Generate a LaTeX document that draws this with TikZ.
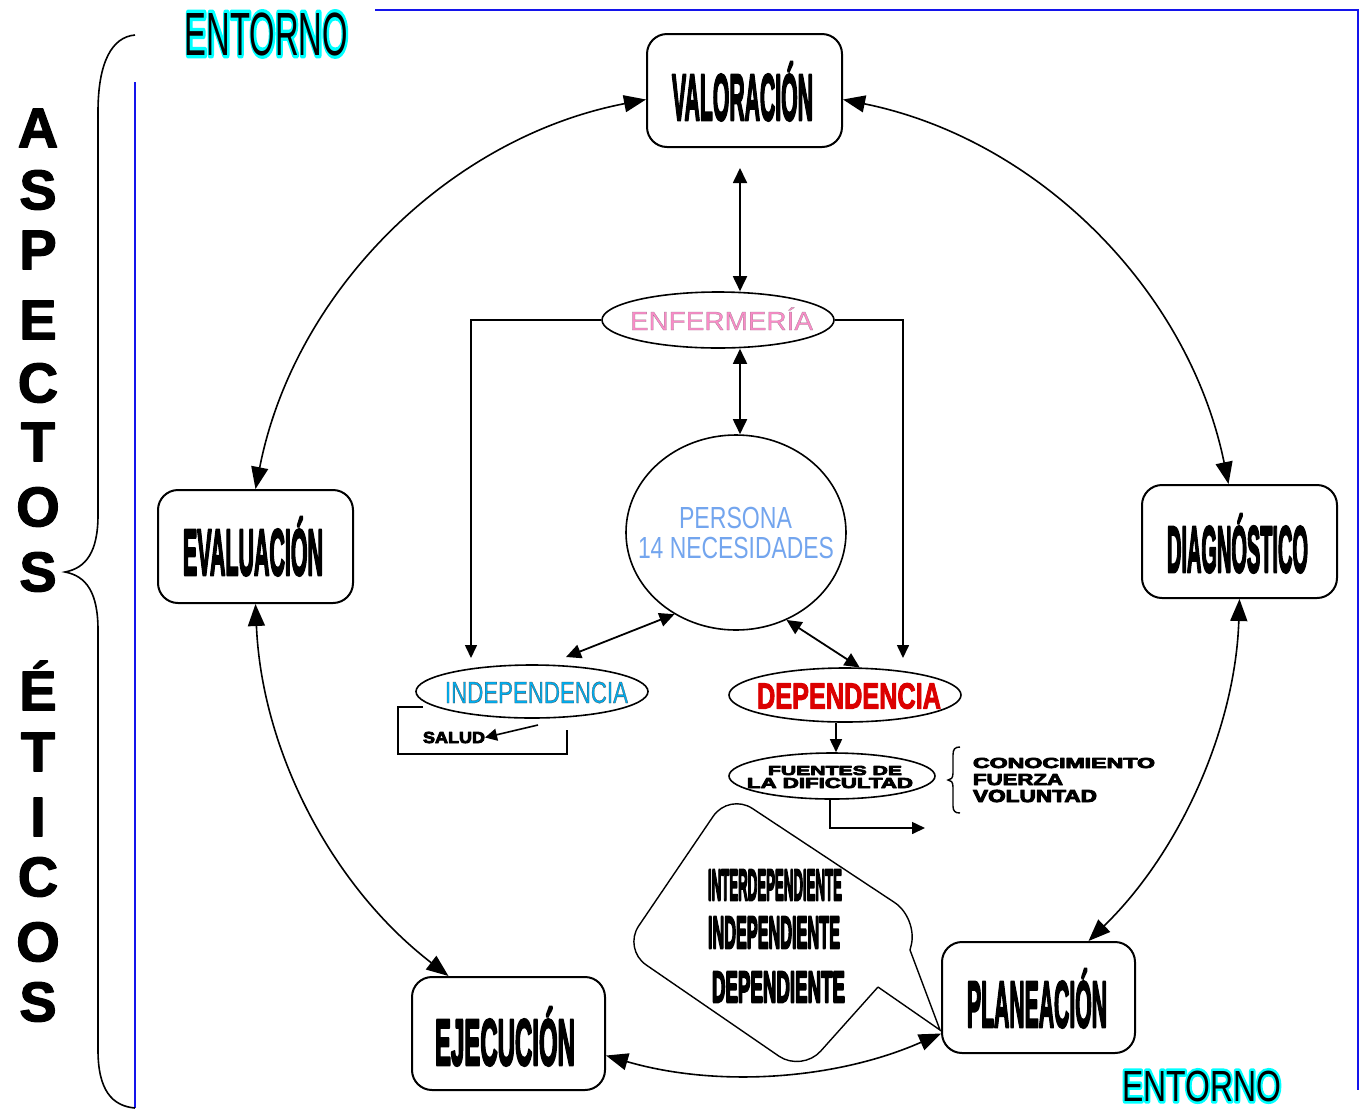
\documentclass[tikz,border=0pt]{standalone}
\usepackage{fontspec}
\setmainfont{Liberation Sans}
\usepackage{graphicx}
\usetikzlibrary{shapes.geometric,arrows.meta}
\newdimen\px \px=0.5pt
\newcommand\fit[3]{\resizebox{#1\px}{#2\px}{\smash{#3}\vphantom{X}}}
\newcommand\capbox[1]{\smash{#1}\vphantom{X}}
% text drawn with a PDF text render mode: #1 mode, #2 stroke width, #3 stroke rgb, #4 text
\newcommand\outl[4]{{\special{pdf:literal direct #1 Tr #2 w 1 j #3 RG}#4\special{pdf:literal direct 0 Tr}}}
\definecolor{enfpink}{RGB}{250,140,200}
\definecolor{perblue}{RGB}{115,165,238}
\definecolor{depred}{RGB}{220,0,0}
\definecolor{blueln}{RGB}{20,20,235}
\begin{document}
\begin{tikzpicture}[x=0.5pt,y=0.5pt,
  proc/.style={draw, line width=1pt, rounded corners=10pt, inner sep=0pt, minimum width=97.5pt, minimum height=56.5pt},
  lbl/.style={inner sep=0pt, outer sep=0pt},
  oval/.style={ellipse, draw, line width=0.8pt, inner sep=0pt},
  bigarr/.style={line width=0.8pt, {Triangle[length=11pt,width=8.5pt]}-{Triangle[length=11pt,width=8.5pt]}},
  medarr/.style={line width=0.9pt, {Triangle[length=7.5pt,width=7pt]}-{Triangle[length=7.5pt,width=7pt]}},
  onearr/.style={line width=0.8pt, -{Triangle[length=6.5pt,width=6pt]}},
  blueline/.style={draw=blueln, line width=1pt},
  thin/.style={line width=0.7pt}]
\useasboundingbox (0,0) rectangle (1366,-1110);

% blue frame lines
\draw[blueline] (375,-10) -- (1358,-10) -- (1358,-1090);
\draw[blueline] (135,-82) -- (135,-1108);

% big brace
\draw[line width=0.8pt] (135,-35) .. controls (112,-37) and (98,-62) .. (98,-112) -- (98,-515) .. controls (98,-552) and (86,-568) .. (65,-572) .. controls (86,-576) and (98,-592) .. (98,-630) -- (98,-1050) .. controls (98,-1090) and (112,-1106) .. (135,-1108);

% ASPECTOS ETICOS
\foreach \l/\yy [count=\i] in {A/128,S/190,P/250,E/320,C/383,T/442,O/507,S/572,É/691,T/752,I/817,C/877,O/942,S/1002}
  \node[lbl,font=\fontsize{28}{28}\selectfont\bfseries] (asp\i) at (38,-\yy) {\capbox{\outl{2}{0.6}{0 0 0}{\l}}};

% ENTORNO labels (cyan glow = stroked copy under the black text)
\node[lbl] (entT) at (266.5,-34) {\fit{163}{42}{\rlap{\outl{1}{1.1}{0 1 1}{ENTORNO}}ENTORNO}};
\node[lbl] (entT2) at (1201.5,-1086) {\fit{159}{30}{\rlap{\outl{1}{1.2}{0 1 1}{ENTORNO}}ENTORNO}};

% boxes
\node[proc] (val) at (744.5,-90.5) {};
\node[proc] (diag) at (1239.5,-541.5) {};
\node[proc] (eval) at (255.5,-546.5) {};
\node[proc, minimum width=96.5pt] (ejec) at (508.5,-1033.5) {};
\node[proc, minimum width=96.5pt, minimum height=55.5pt] (plan) at (1038.5,-997.5) {};

\node[lbl,font=\bfseries] (valT) at (742.5,-97.5) {\fit{141}{45}{\outl{2}{0.45}{0 0 0}{VALORACIÓN}}};
\node[lbl,font=\bfseries] (diagT) at (1237.5,-549.5) {\fit{141}{45}{\outl{2}{0.45}{0 0 0}{DIAGNÓSTICO}}};
\node[lbl,font=\bfseries] (evalT) at (253,-552.5) {\fit{140}{45}{\outl{2}{0.45}{0 0 0}{EVALUACIÓN}}};
\node[lbl,font=\bfseries] (ejecT) at (505,-1042.5) {\fit{140}{45}{\outl{2}{0.45}{0 0 0}{EJECUCIÓN}}};
\node[lbl,font=\bfseries] (planT) at (1037,-1004.5) {\fit{140}{45}{\outl{2}{0.45}{0 0 0}{PLANEACIÓN}}};

% ovals
\node[oval, minimum width=116pt, minimum height=28pt] (enf) at (718,-320) {};
\node[oval, minimum width=110pt, minimum height=97.5pt] (persona) at (736,-532.5) {};
\node[oval, minimum width=116pt, minimum height=26.5pt] (indep) at (532,-691.5) {};
\node[oval, minimum width=116pt, minimum height=27pt] (dep) at (845,-695) {};
\node[oval, minimum width=103pt, minimum height=23pt] (fuentes) at (832,-776) {};

\node[lbl,text=enfpink] (enfT) at (721.5,-321) {\fit{183}{18}{\outl{2}{0.08}{0.6 0.5 0.55}{ENFERMERÍA}}};
\node[lbl,text=perblue] (perT1) at (735.5,-517.5) {\fit{113}{21}{PERSONA}};
\node[lbl,text=perblue] (perT2) at (736,-547.5) {\fit{196}{21}{14 NECESIDADES}};
\node[lbl,text=cyan] (indT) at (536.5,-692.5) {\fit{183}{21}{\outl{2}{0.1}{0.3 0.3 0.3}{INDEPENDENCIA}}};
\node[lbl,text=depred,font=\bfseries] (depT) at (849,-696) {\fit{184}{25}{\outl{2}{0.3}{0.86 0 0}{DEPENDENCIA}}};
\node[lbl,font=\bfseries] (fuT1) at (835,-770.5) {\fit{134}{9}{\outl{2}{0.5}{0 0 0}{FUENTES DE}}};
\node[lbl,font=\bfseries] (fuT2) at (830,-783) {\fit{166}{10}{\outl{2}{0.5}{0 0 0}{LA DIFICULTAD}}};
\node[lbl,font=\bfseries,anchor=west] (conT1) at (973,-763) {\fit{182}{10}{\outl{2}{0.5}{0 0 0}{CONOCIMIENTO}}};
\node[lbl,font=\bfseries,anchor=west] (conT2) at (973,-779.5) {\fit{90}{11}{\outl{2}{0.5}{0 0 0}{FUERZA}}};
\node[lbl,font=\bfseries,anchor=west] (conT3) at (973,-796) {\fit{124}{12}{\outl{2}{0.5}{0 0 0}{VOLUNTAD}}};
\node[lbl,font=\bfseries] (salT) at (454,-737.5) {\fit{62}{11}{\outl{2}{0.5}{0 0 0}{SALUD}}};

% callout
\draw[thin, rounded corners=14pt] (878,-987) -- (802,-1072) -- (623,-949) -- (729,-793) -- (918,-918) -- (910,-950);
\draw[thin] (910,-950) -- (940,-1030) -- (878,-987);
\node[lbl,font=\bfseries] (cb1) at (775,-885) {\fit{134}{30}{\outl{2}{0.6}{0 0 0}{INTERDEPENDIENTE}}};
\node[lbl,font=\bfseries] (cb2) at (774,-932.5) {\fit{132}{31}{\outl{2}{0.6}{0 0 0}{INDEPENDIENTE}}};
\node[lbl,font=\bfseries] (cb3) at (778.5,-987) {\fit{133}{30}{\outl{2}{0.6}{0 0 0}{DEPENDIENTE}}};

% cycle arcs
\draw[bigarr] ([yshift=-4.5pt]val.west) to[bend right=34, looseness=0.93] (eval.north);
\draw[bigarr] ([yshift=-4.5pt]val.east) to[bend left=33.5, looseness=0.93] ([xshift=-5.5pt]diag.north);
\draw[bigarr] (diag.south) to[bend left=22, looseness=0.88] ([xshift=25pt]plan.north);
\draw[bigarr] ([yshift=-18pt]plan.west) to[bend left=20, looseness=0.88] ([yshift=-11pt]ejec.east);
\draw[bigarr] ([xshift=-30pt]ejec.north) to[bend left=25, looseness=0.9] (eval.south);

% inner connectors
\coordinate (v1) at (740,-168);
\draw[medarr] (v1) -- (v1 |- enf.north);
\draw[medarr] ([xshift=11pt]enf.south) -- ([xshift=2pt]persona.north);
\coordinate (lt) at (471,-658);
\coordinate (rt) at (903,-658);
\draw[onearr] (enf.west) -| (lt);
\draw[onearr] (enf.east) -| (rt);
\coordinate (ip) at (566,-657);
\draw[medarr] (persona.233) -- (ip);
\draw[medarr] (persona.300) -- (dep.62);
\draw[onearr] ([xshift=-4.5pt]dep.south) -- ([xshift=2pt]fuentes.north);
\coordinate (fr) at (925,-828);
\draw[onearr] ([xshift=-1pt]fuentes.south) |- (fr);

% SALUD bracket and arrow
\draw[line width=0.8pt] (423,-707) -- (398,-707) -- (398,-754) -- (567,-754) -- (567,-730);
\coordinate (sa) at (538,-725);
\draw[line width=0.8pt,-{Triangle[length=6pt,width=6pt]}] (sa) -- (salT.east);

% small brace
\draw[thin] (960,-747) .. controls (955,-747) and (953,-749) .. (953,-755) -- (953,-773) .. controls (953,-778) and (951,-780) .. (948,-780) .. controls (951,-780) and (953,-782) .. (953,-787) -- (953,-806) .. controls (953,-811) and (955,-813) .. (960,-813);
\end{tikzpicture}
\end{document}
